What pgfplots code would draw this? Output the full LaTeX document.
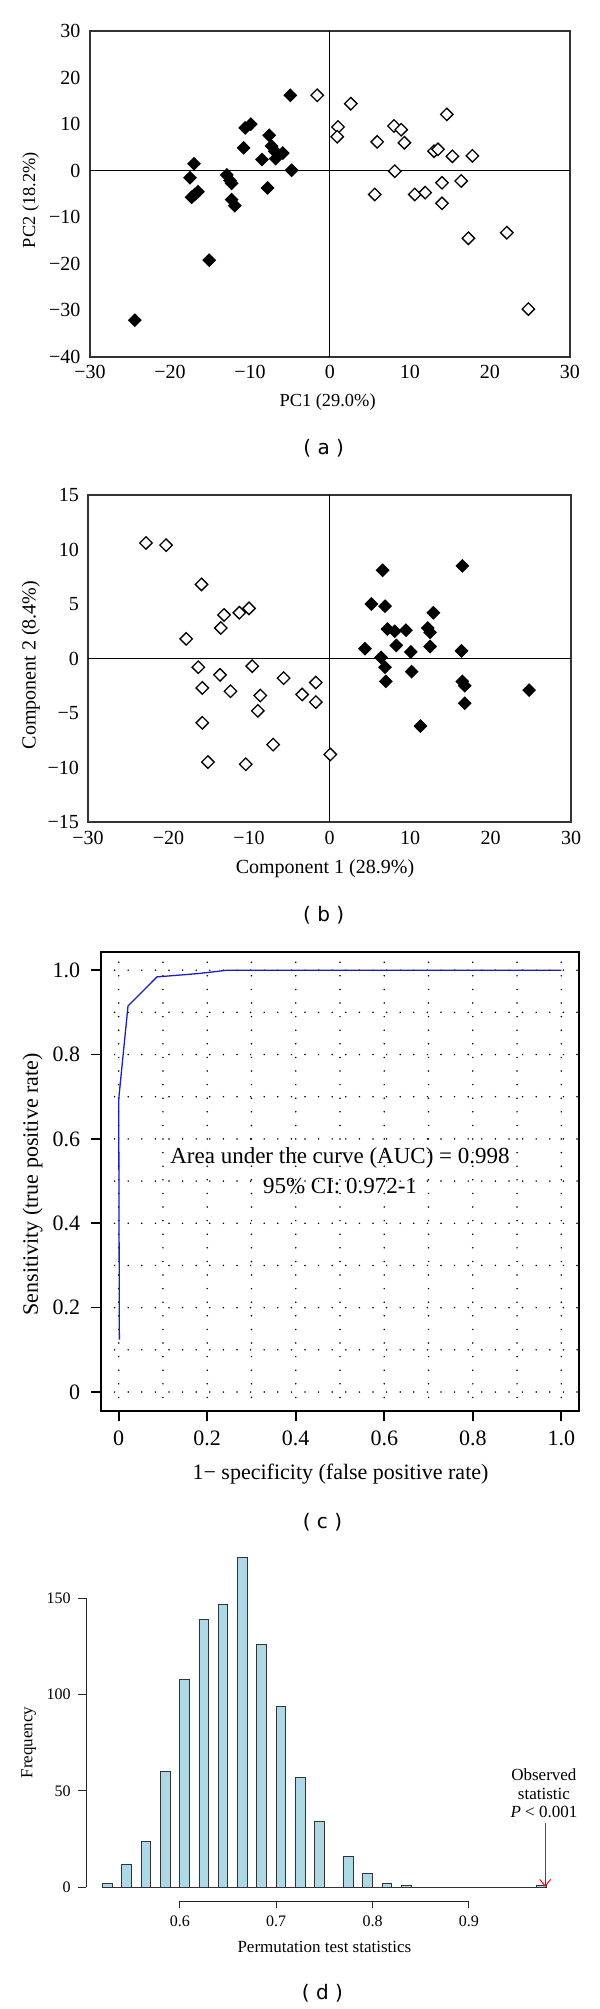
\documentclass[border=0pt]{standalone}
\usepackage{fontspec}
\setmainfont{Liberation Serif}
\newfontfamily\tagfont{DejaVu Sans}
\usepackage{pgfplots}
\pgfplotsset{compat=1.18}
\usetikzlibrary{arrows.meta}
\definecolor{histfill}{HTML}{ADD8E6}
\definecolor{rocblue}{RGB}{30,30,195}

\pgfplotsset{
  pca/.style={scale only axis, clip=false, anchor=south west,
    major tick length=0pt,
    axis line style={black!80, line width=0.7pt},
    tick label style={font=\fontsize{10}{12}\selectfont, inner sep=0pt},
    xticklabel style={anchor=center}, yticklabel style={anchor=east}},
  filled/.style={only marks, mark=square*, mark size=2.2pt,
    mark options={rotate=45, fill=black, draw=black, line width=0.5pt}},
  hollow/.style={only marks, mark=square*, mark size=2.2pt,
    mark options={rotate=45, fill=white, draw=black, line width=0.65pt}},
  zero/.style={black, line width=0.5pt, no marks},
}

\begin{document}
\begin{tikzpicture}
\path[use as bounding box] (0pt,0pt) rectangle (300pt,-1004.5pt);

% (a) PCA
\begin{axis}[pca, at={(45pt,-178.5pt)}, width=240pt, height=163pt,
    xmin=-30, xmax=30, ymin=-40, ymax=30,
    xtick={-30,-20,-10,0,10,20,30}, xticklabels={−30,−20,−10,0,10,20,30},
    ytick={-40,-30,-20,-10,0,10,20,30}, yticklabels={−40,−30,−20,−10,0,10,20,30},
    xticklabel style={yshift=-7.5pt}, yticklabel style={xshift=-4.65pt}]
  \addplot[zero] coordinates {(0,-40) (0,30)};
  \addplot[zero] coordinates {(-30,0) (30,0)};
  \addplot[filled] coordinates {
    (-4.96,16.2) (-9.9,10.0) (-10.6,9.2) (-7.6,7.6) (-10.8,4.9) (-7.3,5.3)
    (-6.9,4.2) (-5.9,3.8) (-6.8,2.6) (-8.5,2.4) (-4.8,0.1) (-17.0,1.5)
    (-17.5,-1.5) (-12.9,-0.9) (-12.5,-2.1) (-12.3,-2.7) (-7.8,-3.7) (-16.5,-4.5)
    (-16.9,-5.1) (-17.3,-5.7) (-12.3,-6.2) (-11.9,-7.5) (-15.1,-19.2) (-24.4,-32.1)};
  \addplot[hollow] coordinates {
    (-1.6,16.2) (2.6,14.4) (14.6,12.1) (1.0,9.4) (0.9,7.3) (8.0,9.6)
    (8.9,8.8) (5.9,6.2) (9.3,6.0) (13.0,4.2) (13.5,4.6) (15.3,3.1)
    (17.8,3.2) (8.1,-0.1) (5.6,-5.1) (10.6,-5.1) (11.9,-4.7) (14.0,-2.6)
    (16.4,-2.2) (14.0,-7.0) (17.3,-14.5) (22.1,-13.3) (24.8,-29.7)};
\end{axis}
\node[font=\fontsize{9.2}{11}\selectfont] at (163.8pt,-200.85pt) {PC1 (29.0\%)};
\node[font=\fontsize{9.2}{11}\selectfont, rotate=90] at (15.35pt,-100pt) {PC2 (18.2\%)};
\node[font=\tagfont\fontsize{10}{12}\selectfont] at (161.85pt,-224.15pt) {( a )};

% (b) PLS-DA
\begin{axis}[pca, at={(44pt,-411pt)}, width=241.5pt, height=163.5pt,
    xmin=-30, xmax=30, ymin=-15, ymax=15,
    xtick={-30,-20,-10,0,10,20,30}, xticklabels={−30,−20,−10,0,10,20,30},
    ytick={-15,-10,-5,0,5,10,15}, yticklabels={−15,−10,−5,0,5,10,15},
    xticklabel style={yshift=-8pt}, yticklabel style={xshift=-4.35pt}]
  \addplot[zero] coordinates {(0,-15) (0,15)};
  \addplot[zero] coordinates {(-30,0) (30,0)};
  \addplot[hollow] coordinates {
    (-22.8,10.6) (-20.3,10.4) (-15.9,6.8) (-10.0,4.6) (-11.2,4.2) (-13.1,4.0)
    (-13.5,2.8) (-17.8,1.8) (-16.3,-0.8) (-9.6,-0.7) (-13.6,-1.5) (-5.7,-1.8)
    (-1.7,-2.2) (-15.8,-2.7) (-12.3,-3.0) (-8.6,-3.4) (-3.4,-3.3) (-1.7,-4.0)
    (-8.9,-4.8) (-15.8,-5.9) (-7.0,-7.9) (0.1,-8.8) (-15.1,-9.5) (-10.4,-9.7)};
  \addplot[filled] coordinates {
    (6.6,8.1) (16.5,8.5) (5.2,5.0) (6.9,4.8) (12.9,4.2) (7.2,2.7)
    (8.1,2.5) (9.5,2.6) (12.2,2.8) (12.5,2.4) (4.4,0.9) (8.3,1.2)
    (12.5,1.1) (10.1,0.6) (16.4,0.7) (6.4,0.1) (6.9,-0.8) (10.2,-1.2)
    (7.0,-2.1) (16.5,-2.1) (16.8,-2.5) (24.8,-2.9) (16.8,-4.1) (11.3,-6.2)};
\end{axis}
\node[font=\fontsize{10}{12}\selectfont] at (162.5pt,-434.15pt) {Component 1 (28.9\%)};
\node[font=\fontsize{10}{12}\selectfont, rotate=90] at (15.35pt,-332.5pt) {Component 2 (8.4\%)};
\node[font=\tagfont\fontsize{10}{12}\selectfont] at (161.85pt,-457.5pt) {( b )};

% (c) ROC
\begin{axis}[at={(50.5pt,-705.5pt)}, anchor=south west, scale only axis,
    width=239pt, height=229.5pt, clip=false,
    xmin=-0.04, xmax=1.04, ymin=-0.045, ymax=1.043,
    xtick={0,0.2,0.4,0.6,0.8,1}, xticklabels={},
    ytick={0,0.2,0.4,0.6,0.8,1}, yticklabels={},
    minor xtick={0.1,0.3,0.5,0.7,0.9}, minor ytick={0.1,0.3,0.5,0.7,0.9},
    grid=both,
    grid style={black, line width=0.85pt, dash pattern=on 0pt off 6.8pt, line cap=round},
    tick align=outside, tick pos=left, major tick length=5pt, minor tick length=0pt,
    tick style={black, line width=0.8pt},
    axis line style={black, line width=0.9pt}]
  \addplot[rocblue, line width=0.65pt, no marks] coordinates {
    (0.0015,0.124) (0.0,0.694) (0.021,0.915) (0.0865,0.984) (0.181,0.992) (0.246,1.0) (1.0,1.0)};
  \node[font=\fontsize{11.5}{13}\selectfont] at (axis cs:0.5,0.554) {Area under the curve (AUC) = 0.998};
  \node[font=\fontsize{11.5}{13}\selectfont] at (axis cs:0.5,0.488) {95\% CI: 0.972-1};
  \pgfplotsinvokeforeach{0,0.2,0.4,0.6,0.8}{
    \node[font=\fontsize{11}{13}\selectfont, inner sep=0pt, yshift=-13.65pt] at (axis cs:#1,-0.045) {#1};
    \node[font=\fontsize{11}{13}\selectfont, inner sep=0pt, anchor=east, xshift=-10.2pt] at (axis cs:-0.04,#1) {#1};
  }
  \node[font=\fontsize{11}{13}\selectfont, inner sep=0pt, yshift=-13.65pt] at (axis cs:1,-0.045) {1.0};
  \node[font=\fontsize{11}{13}\selectfont, inner sep=0pt, anchor=east, xshift=-10.2pt] at (axis cs:-0.04,1) {1.0};
\end{axis}
\node[font=\fontsize{11}{13}\selectfont] at (170.25pt,-736.9pt) {1− specificity (false positive rate)};
\node[font=\fontsize{11}{13}\selectfont, rotate=90] at (16.25pt,-592.2pt) {Sensitivity (true positive rate)};
\node[font=\tagfont\fontsize{10}{12}\selectfont] at (161.25pt,-761.3pt) {( c )};

% (d) permutation histogram
\begin{axis}[at={(43pt,-950.5pt)}, anchor=south west, scale only axis,
    width=239.7pt, height=175.45pt, clip=false, hide axis,
    xmin=0.5027, xmax=1.0, ymin=-7.1, ymax=175]
  \addplot[ybar interval, fill=histfill, draw=black!80, line width=0.5pt] coordinates {
    (0.52,2) (0.53,0) (0.54,12) (0.55,0) (0.56,24) (0.57,0) (0.58,60) (0.59,0)
    (0.60,108) (0.61,0) (0.62,139) (0.63,0) (0.64,147) (0.65,0) (0.66,171) (0.67,0)
    (0.68,126) (0.69,0) (0.70,94) (0.71,0) (0.72,57) (0.73,0) (0.74,34) (0.75,0)
    (0.76,0) (0.77,16) (0.78,0) (0.79,7) (0.80,0) (0.81,2) (0.82,0) (0.83,1)
    (0.84,0) (0.85,0) (0.86,0) (0.87,0) (0.88,0) (0.89,0) (0.90,0) (0.91,0)
    (0.92,0) (0.93,0) (0.94,0) (0.95,0) (0.96,0) (0.97,1) (0.98,0)};
  \addplot[red, line width=0.5pt, no marks, -{Straight Barb[length=3.3pt, width=5.5pt]}]
    coordinates {(0.979,33.5) (0.979,0.3)};
  \node[font=\fontsize{8.5}{9.15}\selectfont, align=center] at (axis cs:0.9777,48.8)
    {Observed\\statistic\\\textit{P} < 0.001};
  \draw[black!85, line width=0.5pt] (axis cs:0.5027,0) -- (axis cs:0.5027,150);
  \pgfplotsinvokeforeach{0,50,100,150}{
    \draw[black!85, line width=0.5pt] (axis cs:0.5027,#1) -- ++(-3.8pt,0pt)
      node[anchor=east, inner sep=0pt, xshift=-3.6pt, font=\fontsize{8}{9.6}\selectfont, black] {#1};
  }
  \draw[black!85, line width=0.5pt] (axis cs:0.6,-7.1) -- (axis cs:0.9,-7.1);
  \pgfplotsinvokeforeach{0.6,0.7,0.8,0.9}{
    \draw[black!85, line width=0.5pt] (axis cs:#1,-7.1) -- ++(0pt,-3.7pt);
    \node[font=\fontsize{8}{9.6}\selectfont, inner sep=0pt, yshift=-10.35pt] at (axis cs:#1,-7.1) {#1};
  }
\end{axis}
\node[font=\fontsize{8.5}{10}\selectfont] at (162.2pt,-973.35pt) {Permutation test statistics};
\node[font=\fontsize{8.5}{10}\selectfont, rotate=90] at (14.3pt,-871.2pt) {Frequency};
\node[font=\tagfont\fontsize{10}{12}\selectfont] at (161.25pt,-996.35pt) {( d )};
\end{tikzpicture}
\end{document}
